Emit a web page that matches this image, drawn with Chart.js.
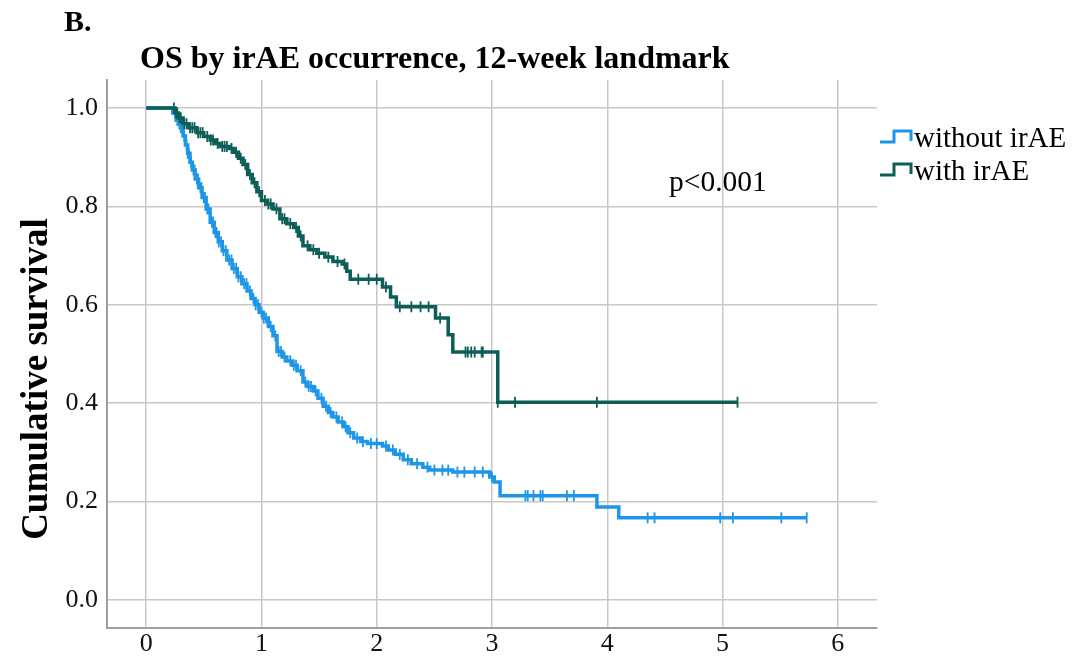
<!DOCTYPE html>
<html>
<head>
<meta charset="utf-8">
<script src="https://cdn.jsdelivr.net/npm/chart.js@4.4.0/dist/chart.umd.min.js"></script>
<style>
  html, body { margin: 0; padding: 0; background: #fff; }
</style>
</head>
<body>
<canvas id="osChart" width="1076" height="662"></canvas>
<script>
    // Axis tick values
    const xTicks = [0, 1, 2, 3, 4, 5, 6];
    const yTicks = [0, 0.2, 0.4, 0.6, 0.8, 1.0];

    // with irAE: step times (years) and survival after each step
    const iraeTime = [0, 0.25, 0.28, 0.32, 0.37, 0.44, 0.50, 0.555, 0.60, 0.64, 0.72, 0.76, 0.80, 0.84, 0.88, 0.92, 0.96,
        1.00, 1.05, 1.10, 1.16, 1.22, 1.28, 1.32, 1.36, 1.42, 1.48, 1.55, 1.62, 1.70, 1.74, 1.77, 2.05, 2.12, 2.17,
        2.51, 2.62, 2.66, 3.05, 5.13];
    const iraeSurv = [1.0, 0.99, 0.98, 0.968, 0.96, 0.95, 0.942, 0.935, 0.928, 0.922, 0.918, 0.91, 0.898, 0.885, 0.865, 0.848, 0.83,
        0.812, 0.805, 0.795, 0.775, 0.765, 0.757, 0.74, 0.72, 0.712, 0.705, 0.697, 0.688, 0.683, 0.668, 0.652, 0.636, 0.616, 0.596,
        0.573, 0.539, 0.504, 0.402, 0.402];
    const iraeCensor = [0.24, 0.26, 0.27, 0.29, 0.30, 0.33, 0.35, 0.38, 0.40, 0.42, 0.45, 0.47, 0.49, 0.53, 0.56, 0.58, 0.62,
        0.66, 0.68, 0.70, 0.74, 0.78, 0.82, 0.86, 0.90, 0.94, 0.98, 1.03, 1.06, 1.08, 1.13, 1.18, 1.20, 1.25, 1.30,
        1.34, 1.40, 1.45, 1.50, 1.58, 1.66, 1.72, 1.84, 1.93, 2.00, 2.08, 2.20, 2.30, 2.38, 2.45, 2.55,
        2.77, 2.79, 2.82, 2.85, 2.91, 2.92, 3.05, 3.20, 3.91, 5.13];

    // without irAE
    const noIraeTime = [0, 0.23, 0.26, 0.295, 0.32, 0.34, 0.36, 0.38, 0.40, 0.425, 0.455, 0.485, 0.52, 0.555, 0.59, 0.625, 0.66,
        0.70, 0.745, 0.79, 0.83, 0.875, 0.91, 0.945, 0.98, 1.015, 1.06, 1.10, 1.135, 1.18, 1.22, 1.27, 1.31, 1.36, 1.40,
        1.45, 1.49, 1.535, 1.58, 1.62, 1.665, 1.71, 1.75, 1.80, 1.86, 1.92, 2.05, 2.10, 2.16, 2.23, 2.30, 2.40, 2.46,
        2.66, 2.98, 3.02, 3.07, 3.91, 4.10, 5.73];
    const noIraeSurv = [1.0, 0.99, 0.975, 0.96, 0.943, 0.925, 0.908, 0.89, 0.874, 0.856, 0.838, 0.818, 0.795, 0.768, 0.747, 0.728, 0.71,
        0.691, 0.674, 0.657, 0.643, 0.628, 0.613, 0.60, 0.585, 0.573, 0.556, 0.537, 0.505, 0.494, 0.486, 0.477, 0.466, 0.443, 0.434,
        0.425, 0.41, 0.394, 0.381, 0.372, 0.362, 0.352, 0.34, 0.329, 0.322, 0.318, 0.313, 0.305, 0.296, 0.285, 0.277, 0.27, 0.264,
        0.26, 0.25, 0.24, 0.212, 0.189, 0.167, 0.167];
    const noIraeCensor = [0.25, 0.27, 0.28, 0.30, 0.31, 0.33, 0.35, 0.36, 0.37, 0.39, 0.41, 0.42, 0.44, 0.45, 0.47, 0.48, 0.50,
        0.51, 0.53, 0.54, 0.57, 0.58, 0.60, 0.61, 0.63, 0.65, 0.67, 0.69, 0.72, 0.74, 0.76, 0.78, 0.80, 0.82, 0.85, 0.87,
        0.90, 0.93, 0.95, 0.97, 1.00, 1.02, 1.04, 1.08, 1.12, 1.15, 1.17, 1.20, 1.25, 1.28, 1.30, 1.34, 1.38, 1.41, 1.43,
        1.47, 1.52, 1.56, 1.60, 1.65, 1.70, 1.73, 1.77, 1.83, 1.88, 1.95, 2.00, 2.08, 2.14, 2.20, 2.27, 2.35, 2.44,
        2.50, 2.57, 2.62, 2.70, 2.76, 2.85, 2.92, 3.00,
        3.29, 3.31, 3.36, 3.42, 3.44, 3.65, 3.71, 4.35, 4.41, 4.98, 5.09, 5.51, 5.73];

    const blue = "rgb(30, 150, 232)";
    const green = "rgb(12, 94, 86)";
    const serif = "'Liberation Serif', 'DejaVu Serif', serif";

    // Build {x, y} points from time / survival lists
    function toPoints(times, surv) {
        return times.map((t, i) => ({ x: t, y: surv[i] }));
    }

    // Survival value at a censor time
    function censorPoints(censor, times, surv) {
        return censor.map(t => {
            let s = surv[0];
            for (let i = 0; i < times.length; i++) {
                if (times[i] <= t) s = surv[i];
            }
            return { x: t, y: s };
        });
    }

    function curve(label, times, surv, color) {
        return {
            label: label,
            data: toPoints(times, surv),
            stepped: true,
            borderColor: color,
            backgroundColor: color,
            borderWidth: 3.5,
            pointRadius: 0,
            fill: false,
        };
    }

    function censorMarks(label, censor, times, surv, color) {
        return {
            label: label,
            data: censorPoints(censor, times, surv),
            showLine: false,
            pointStyle: "line",
            rotation: 90,
            pointRadius: 5.5,
            borderColor: color,
            borderWidth: 1.8,
        };
    }

    // Texts, legend and p-value drawn over the chart
    const annotations = {
        id: "annotations",
        afterDraw(chart) {
            const ctx = chart.ctx;
            ctx.save();
            ctx.fillStyle = "#000";
            ctx.textBaseline = "alphabetic";
            ctx.textAlign = "left";

            ctx.font = "bold 30px " + serif;
            ctx.fillText("B.", 64, 31);
            ctx.font = "bold 32px " + serif;
            ctx.fillText("OS by irAE occurrence, 12-week landmark", 140, 68);

            ctx.font = "29.5px " + serif;
            ctx.fillText("p<0.001", 669, 191);

            // y axis title
            ctx.save();
            ctx.translate(47, 379);
            ctx.rotate(-Math.PI / 2);
            ctx.textAlign = "center";
            ctx.font = "bold 37px " + serif;
            ctx.fillText("Cumulative survival", 0, 0);
            ctx.restore();

            // legend
            const items = [["without irAE", blue, 137], ["with irAE", green, 170]];
            items.forEach(([text, color, cy]) => {
                ctx.strokeStyle = color;
                ctx.lineWidth = 3;
                ctx.beginPath();
                ctx.moveTo(880, cy + 5);
                ctx.lineTo(894, cy + 5);
                ctx.lineTo(894, cy - 6);
                ctx.lineTo(911, cy - 6);
                ctx.lineTo(911, cy + 4);
                ctx.stroke();
                ctx.fillStyle = "#000";
                ctx.font = "29px " + serif;
                ctx.fillText(text, 914, cy + 10);
            });
            ctx.restore();
        },
    };

    const osChart = new Chart(document.getElementById("osChart").getContext("2d"), {
        type: "line",
        data: {
            datasets: [
                curve("with irAE", iraeTime, iraeSurv, green),
                censorMarks("with irAE censored", iraeCensor, iraeTime, iraeSurv, green),
                curve("without irAE", noIraeTime, noIraeSurv, blue),
                censorMarks("without irAE censored", noIraeCensor, noIraeTime, noIraeSurv, blue),
            ],
        },
        options: {
            responsive: false,
            animation: false,
            layout: {
                padding: { left: 0, top: 80, right: 199, bottom: 0 },
            },
            plugins: {
                legend: { display: false },
                title: { display: false },
                tooltip: { enabled: false },
            },
            scales: {
                x: {
                    type: "linear",
                    min: -0.34,
                    max: 6.34,
                    afterBuildTicks: scale => {
                        scale.ticks = xTicks.map(v => ({ value: v }));
                    },
                    afterFit: scale => {
                        scale.height = 34;
                    },
                    ticks: {
                        color: "#111",
                        font: { family: serif, size: 26 },
                        padding: 1,
                        maxRotation: 0,
                    },
                    grid: {
                        color: "rgb(200, 200, 200)",
                        lineWidth: 1.5,
                        drawTicks: false,
                    },
                    border: { display: true, color: "rgb(160, 160, 160)", width: 2 },
                },
                y: {
                    type: "linear",
                    min: -0.057,
                    max: 1.057,
                    afterBuildTicks: scale => {
                        scale.ticks = yTicks.map(v => ({ value: v }));
                    },
                    afterFit: scale => {
                        scale.width = 107;
                    },
                    ticks: {
                        color: "#111",
                        font: { family: serif, size: 26 },
                        padding: 9,
                        callback: v => v.toFixed(1),
                    },
                    grid: {
                        color: "rgb(200, 200, 200)",
                        lineWidth: 1.5,
                        drawTicks: false,
                    },
                    border: { display: true, color: "rgb(160, 160, 160)", width: 2 },
                },
            },
        },
        plugins: [annotations],
    });
</script>
</body>
</html>
